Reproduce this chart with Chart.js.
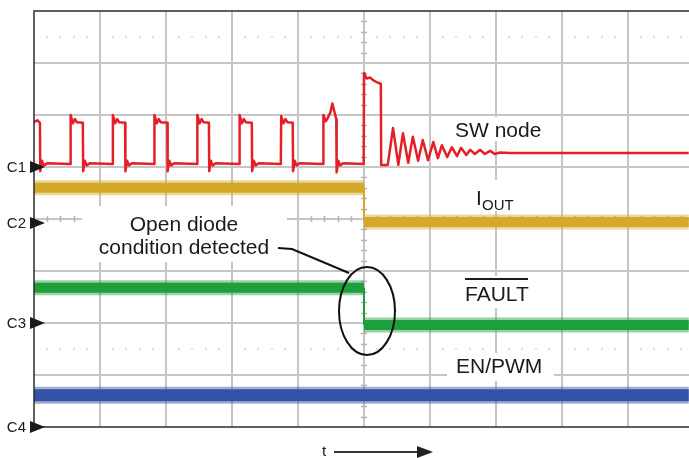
<!DOCTYPE html>
<html>
<head>
<meta charset="utf-8">
<script src="https://cdn.jsdelivr.net/npm/chart.js@4.4.0/dist/chart.umd.min.js"></script>
<style>
  html, body { margin: 0; padding: 0; background: #fff; }
</style>
</head>
<body>
<canvas id="scope" width="689" height="458"></canvas>
<script>
// time in screen divisions (10 across), level in divisions from the bottom (8 high)
const swTime = [
  0, 0.05, 0.09, 0.095, 0.12, 0.15, 0.2, 0.54,
  0.55, 0.555, 0.59, 0.62, 0.65, 0.74, 0.745, 0.77, 0.80, 0.84,
  1.19, 1.195, 1.23, 1.26, 1.29, 1.38, 1.385, 1.41, 1.44, 1.48,
  1.82, 1.825, 1.86, 1.89, 1.92, 2.02, 2.025, 2.05, 2.08, 2.12,
  2.47, 2.475, 2.51, 2.54, 2.57, 2.65, 2.655, 2.68, 2.71, 2.75,
  3.11, 3.115, 3.15, 3.18, 3.21, 3.30, 3.305, 3.33, 3.36, 3.40,
  3.74, 3.745, 3.78, 3.81, 3.84, 3.92, 3.925, 3.95, 3.98, 4.02,
  4.38, 4.385, 4.42, 4.45, 4.49, 4.52, 4.56, 4.58, 4.585, 4.61, 4.64, 4.68,
  4.995, 5.0, 5.04, 5.09, 5.15, 5.21, 5.255, 5.26, 5.36,
  5.44, 5.52, 5.59, 5.67, 5.74, 5.82, 5.89, 5.97, 6.05, 6.12, 6.18, 6.26,
  6.33, 6.41, 6.47, 6.55, 6.61, 6.68, 6.76, 6.83, 6.91, 6.98, 7.06, 7.2, 9.92
];
const swLevel = [
  5.86, 5.9, 5.85, 4.92, 5.12, 5.03, 5.07, 5.06,
  5.06, 6.0, 5.84, 5.92, 5.86, 5.85, 4.92, 5.12, 5.03, 5.07,
  5.06, 6.0, 5.84, 5.92, 5.86, 5.85, 4.92, 5.12, 5.03, 5.07,
  5.06, 6.0, 5.84, 5.92, 5.86, 5.85, 4.92, 5.12, 5.03, 5.07,
  5.06, 6.0, 5.84, 5.92, 5.86, 5.85, 4.92, 5.12, 5.03, 5.07,
  5.06, 6.0, 5.84, 5.92, 5.86, 5.85, 4.92, 5.12, 5.03, 5.07,
  5.06, 5.98, 5.84, 5.92, 5.86, 5.85, 4.92, 5.12, 5.03, 5.07,
  5.06, 6.0, 5.88, 5.94, 6.05, 6.22, 6.02, 5.92, 4.9, 5.12, 5.03, 5.07,
  5.06, 6.81, 6.7, 6.72, 6.66, 6.62, 6.6, 5.04, 5.04,
  5.75, 5.04, 5.65, 5.08, 5.58, 5.12, 5.52, 5.13, 5.48, 5.17, 5.42, 5.19,
  5.38, 5.21, 5.37, 5.23, 5.33, 5.25, 5.33, 5.25, 5.31, 5.25, 5.28, 5.27, 5.27
];
const ioutTime = [0, 5.0, 5.0, 9.92];
const ioutLevel = [4.6, 4.6, 3.94, 3.94];
const faultTime = [0, 5.0, 5.0, 9.92];
const faultLevel = [2.68, 2.68, 1.96, 1.96];
const enTime = [0, 9.92];
const enLevel = [0.61, 0.61];

const channelNames = ["C1", "C2", "C3", "C4"];
const channelLevels = [5, 3.93, 2, 0];

function toPoints(times, levels) {
  return times.map((t, i) => ({ x: t, y: levels[i] }));
}

// thick band for the noisy traces, thin line on the vertical edges
function bandWidth(w) {
  return (c) => (c.p0.parsed.x === c.p1.parsed.x ? 2 : w);
}

const FONT = '"Liberation Sans", Arial, sans-serif';

function labelBox(ctx, x, y, w, h) {
  ctx.fillStyle = "#ffffff";
  ctx.fillRect(x, y, w, h);
}

const scopeGrid = {
  id: "scopeGrid",
  beforeDatasetsDraw(chart) {
    const { ctx, chartArea: a, scales } = chart;
    const x = scales.x, y = scales.y;
    ctx.save();

    // major divisions
    ctx.strokeStyle = "#c6c6c6";
    ctx.lineWidth = 2;
    ctx.beginPath();
    for (let i = 1; i <= 9; i++) {
      const px = Math.round(x.getPixelForValue(i));
      ctx.moveTo(px, a.top);
      ctx.lineTo(px, a.bottom);
    }
    for (let j = 1; j <= 7; j++) {
      const py = Math.round(y.getPixelForValue(j));
      ctx.moveTo(a.left, py);
      ctx.lineTo(a.right, py);
    }
    ctx.stroke();

    // minor ticks on the centre axes
    ctx.strokeStyle = "#b4b4b4";
    ctx.lineWidth = 1.5;
    ctx.beginPath();
    const cx = Math.round(x.getPixelForValue(5));
    for (let k = 1; k < 40; k++) {
      if (k % 5 === 0) continue;
      const py = Math.round(y.getPixelForValue(k * 0.2)) + 0.5;
      ctx.moveTo(cx - 3, py);
      ctx.lineTo(cx + 3, py);
    }
    const cy = Math.round(y.getPixelForValue(4));
    for (let k = 1; k < 50; k++) {
      if (k % 5 === 0) continue;
      const px = Math.round(x.getPixelForValue(k * 0.2)) + 0.5;
      ctx.moveTo(px, cy - 3);
      ctx.lineTo(px, cy + 3);
    }
    ctx.stroke();

    // faint cursor rows
    ctx.fillStyle = "#dadada";
    [7.5, 1.5].forEach((lv) => {
      const py = Math.round(y.getPixelForValue(lv));
      for (let k = 1; k < 50; k++) {
        if (k % 5 === 0) continue;
        const px = Math.round(x.getPixelForValue(k * 0.2));
        ctx.fillRect(px - 1, py - 1, 2, 2);
      }
    });

    // label backgrounds hide the grid under the text
    labelBox(ctx, 82, 206, 205, 56);
    labelBox(ctx, 450, 117, 95, 24);
    labelBox(ctx, 472, 180, 48, 31);
    labelBox(ctx, 460, 276, 75, 32);
    labelBox(ctx, 447, 353, 107, 28);

    ctx.fillStyle = "#1a1a1a";
    ctx.font = "21px " + FONT;
    ctx.textBaseline = "alphabetic";
    ctx.textAlign = "center";
    ctx.fillText("Open diode", 184, 231);
    ctx.fillText("condition detected", 184, 254);
    ctx.textAlign = "left";
    ctx.fillText("SW node", 455, 137);
    ctx.fillText("I", 476, 205);
    ctx.fillText("FAULT", 465, 301);
    ctx.fillText("EN/PWM", 456, 373);
    ctx.font = "15px " + FONT;
    ctx.fillText("OUT", 482, 210);
    ctx.fillRect(465, 278, 63, 2);

    ctx.restore();
  },
  afterDatasetsDraw(chart) {
    const { ctx, chartArea: a, scales } = chart;
    ctx.save();

    // screen border
    ctx.strokeStyle = "#2b2b2b";
    ctx.lineWidth = 1.5;
    ctx.beginPath();
    ctx.moveTo(a.right, a.top);
    ctx.lineTo(a.left, a.top);
    ctx.lineTo(a.left, a.bottom);
    ctx.lineTo(a.right, a.bottom);
    ctx.stroke();

    // callout ellipse and leader
    ctx.strokeStyle = "#111111";
    ctx.lineWidth = 2;
    ctx.beginPath();
    ctx.ellipse(367, 311, 28, 44, 0, 0, Math.PI * 2);
    ctx.stroke();
    ctx.beginPath();
    ctx.moveTo(278, 248);
    ctx.lineTo(292, 249);
    ctx.lineTo(349, 273);
    ctx.stroke();

    // channel markers
    ctx.fillStyle = "#1a1a1a";
    ctx.font = "15px " + FONT;
    ctx.textAlign = "right";
    ctx.textBaseline = "middle";
    channelNames.forEach((name, i) => {
      const py = Math.round(scales.y.getPixelForValue(channelLevels[i]));
      ctx.fillText(name, 26, py + 1);
      ctx.beginPath();
      ctx.moveTo(30, py - 6);
      ctx.lineTo(45, py);
      ctx.lineTo(30, py + 6);
      ctx.closePath();
      ctx.fill();
    });

    // time arrow
    ctx.textAlign = "center";
    ctx.fillText("t", 324, 452);
    ctx.strokeStyle = "#333333";
    ctx.lineWidth = 2;
    ctx.beginPath();
    ctx.moveTo(334, 452);
    ctx.lineTo(420, 452);
    ctx.stroke();
    ctx.fillStyle = "#222222";
    ctx.beginPath();
    ctx.moveTo(417, 446);
    ctx.lineTo(433, 452);
    ctx.lineTo(417, 458);
    ctx.closePath();
    ctx.fill();

    ctx.restore();
  }
};

// each noisy trace: a soft outer pass for the noise fringe, then the solid core
function bandSets(label, times, levels, color, fringe, core) {
  return [
    {
      label: label + " noise",
      data: toPoints(times, levels),
      borderColor: color + "77",
      borderWidth: fringe,
      segment: { borderWidth: bandWidth(fringe) }
    },
    {
      label: label,
      data: toPoints(times, levels),
      borderColor: color,
      borderWidth: core,
      segment: { borderWidth: bandWidth(core) }
    }
  ];
}

new Chart(document.getElementById("scope"), {
  type: "line",
  data: {
    datasets: [
      ...bandSets("EN/PWM", enTime, enLevel, "#3451a8", 17, 12),
      ...bandSets("FAULT", faultTime, faultLevel, "#1f9e3d", 15, 10),
      ...bandSets("IOUT", ioutTime, ioutLevel, "#d5aa2a", 15, 10),
      {
        label: "SW node",
        data: toPoints(swTime, swLevel),
        borderColor: "#e41f27",
        borderWidth: 2.5,
        borderJoinStyle: "round"
      }
    ]
  },
  options: {
    responsive: false,
    animation: false,
    devicePixelRatio: 1,
    layout: { padding: { left: 34, top: 11, right: 0, bottom: 31 } },
    elements: {
      point: { radius: 0 },
      line: { tension: 0, borderJoinStyle: "miter" }
    },
    scales: {
      x: { type: "linear", display: false, min: 0, max: 9.924 },
      y: { type: "linear", display: false, min: 0, max: 8 }
    },
    plugins: {
      legend: { display: false },
      tooltip: { enabled: false }
    }
  },
  plugins: [scopeGrid]
});
</script>
</body>
</html>
